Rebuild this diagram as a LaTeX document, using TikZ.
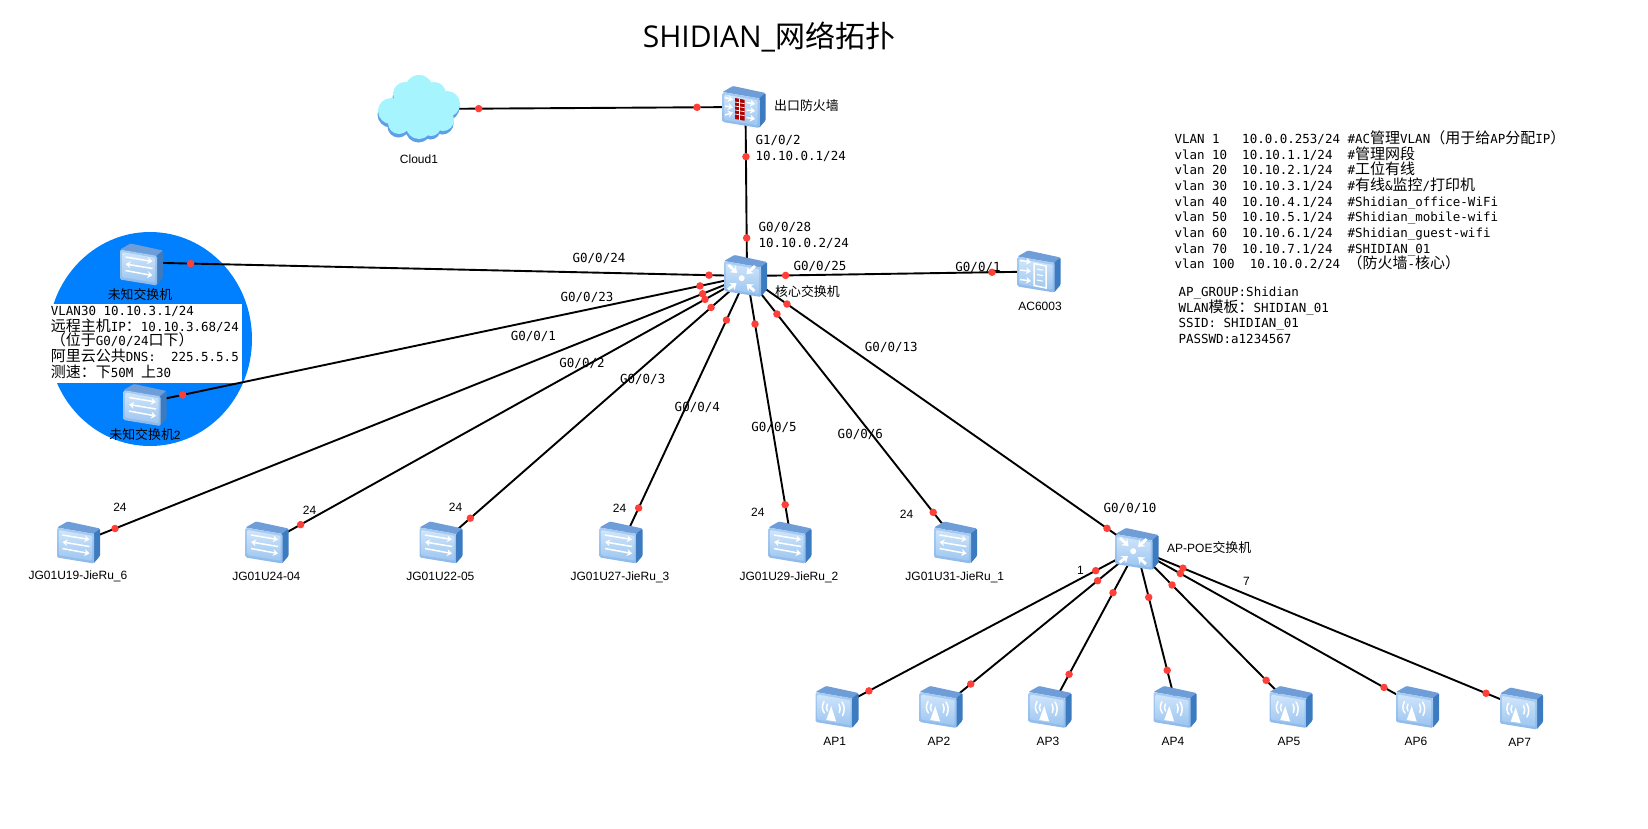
\documentclass[tikz,border=0pt]{standalone}
\usepackage{fontspec}
\setmainfont{Liberation Sans}
\setmonofont{DejaVu Sans Mono}
\newfontfamily\cjk{Noto Sans CJK SC}
\newfontfamily\titlefont{Open Sans}
\usetikzlibrary{arrows.meta}
\pgfdeclarelayer{back}
\pgfdeclarelayer{lines}
\pgfsetlayers{back,lines,main}
\definecolor{dotred}{HTML}{FF4038}
\definecolor{blob}{HTML}{0080FF}
\definecolor{faceA}{HTML}{A9CDF3}
\definecolor{faceB}{HTML}{8DB8EA}
\definecolor{innerA}{HTML}{CFE5FA}
\definecolor{innerB}{HTML}{9DC6F0}
\definecolor{topA}{HTML}{6E9DD8}
\definecolor{sideC}{HTML}{3C7BC0}
\definecolor{cloudC}{HTML}{A6F4FD}
\definecolor{cloudS}{HTML}{5E9FEA}
\newcommand\zh[1]{{\cjk\fontsize{15}{15}\selectfont #1}}
\newcommand\zhs[1]{{\cjk\fontsize{12.9}{14}\selectfont #1}}
\tikzset{
  dev/.style={minimum width=43pt,minimum height=42pt,inner sep=0pt},
  link/.style={draw=black,line width=1.9pt},
  portdot/.style={circle,fill=dotred,inner sep=0pt,minimum size=7.5pt},
  port/.style={font=\ttfamily\fontsize{12.5}{15}\selectfont,inner sep=0pt,text height=9pt,text depth=0pt},
  devname/.style={font=\fontsize{12}{14}\selectfont,inner sep=0pt,text height=9pt,text depth=0pt},
  note/.style={font=\ttfamily\fontsize{12.5}{15}\selectfont,inner sep=0pt,anchor=base west},
  icw/.style={white,line width=1.5pt,-{Stealth[length=5pt,width=7pt]}},
  icb/.style={white,line width=2.8pt,-{Stealth[length=6pt,width=9pt]}},
  icl/.style={white,line width=1.5pt,line cap=round},
}
\newcommand\devbody{%
  \fill[topA,rounded corners=1pt] (-21.5,-15) -- (-11,-21) -- (21.5,-14) -- (15.5,-8.5) -- cycle;
  \fill[sideC,rounded corners=1pt] (15,-8.7) -- (21.5,-14) -- (21.5,13.5) -- (15,21) -- cycle;
  \shade[top color=faceA,bottom color=faceB,rounded corners=1.5pt] (-21.5,-15) -- (15.5,-8.7) -- (15.5,21) -- (-21.5,15) -- cycle;
  \shade[top color=innerA,bottom color=innerB,rounded corners=1pt] (-19.5,-12.5) -- (13.5,-6.7) -- (13.5,18.3) -- (-19.5,12.7) -- cycle;
}
\newcommand\swart{%
  \draw[icw] (-16,-7.5) -- (11,-3);
  \draw[icw] (11,4) -- (-16,-0.5);
  \draw[icw] (-16,6) -- (11,11);
}
\newcommand\fwart{%
  \fill[red!70!black] (-9,-9) -- (0.5,-7.2) -- (0.5,13.7) -- (-9,12) -- cycle;
  \foreach \yy in {-5,-1,3,7} {\draw[white,line width=.7pt] (-9,\yy) -- (0.5,\yy+1.7);}
  \draw[white,line width=.7pt] (-4.2,-8) -- (-4.2,12.8);
  \draw[icw] (-19,-9.5) -- (-11,-7);
  \draw[icw] (-19,-1) -- (-11,0.3);
  \draw[icw] (-19,8) -- (-11,5.5);
  \draw[icw] (2.7,-4.5) -- (11,-3);
  \draw[icw] (2.7,3) -- (11,4);
  \draw[icw] (2.7,10.5) -- (11,12);
}
\newcommand\coreart{%
  \fill[white] (-3.8,2.2) circle (3);
  \draw[icb] (-17,-11) -- (-8.5,-3);
  \draw[icb] (9.5,-10) -- (1,-2);
  \draw[icb] (-17.5,13.5) -- (-9,7);
  \draw[icb] (9,15) -- (1,8);
}
\newcommand\apart{%
  \fill[white] (-5.8,-1) -- (-0.8,14.5) -- (-10.8,13) -- cycle;
  \draw[icl] (-13,-5.5) .. controls (-15.5,-1) and (-15,3) .. (-12.5,6);
  \draw[icl] (-9.5,-3) .. controls (-11,-0.5) and (-10.8,2) .. (-9.5,4);
  \draw[icl] (2,-3) .. controls (3.5,0) and (3.5,3) .. (2.3,5.5);
  \draw[icl] (5,-5) .. controls (7.8,-1) and (7.8,4) .. (5.5,8.5);
}
\newcommand\acart{%
  \draw[icw] (-19,-11) -- (-8,-9.5);
  \draw[icw] (-19,-1.5) -- (-8,-0.2);
  \draw[icw] (-19,8) -- (-8,9.5);
  \draw[icl] (-5,-8) -- (7,-5.5) -- (7,16.5) -- (-5,14) -- cycle;
  \draw[white,line width=1pt] (-2,-2.5) -- (4,-1.3);
  \draw[white,line width=1pt] (-2,3) -- (4,4.2);
  \draw[white,line width=1pt] (-2,8.5) -- (4,9.7);
}
\newcommand\device[4]{%
  \node[dev] (#1) at (#2,#3) {};
  \begin{scope}[shift={(#1.center)},xshift=-1.5pt]
    \devbody #4
  \end{scope}%
}
\newcommand\lnk[5]{%
  \begin{pgfonlayer}{lines}
    \draw[link] (#2) -- node[portdot,pos=#4] (#1a) {} node[portdot,pos=#5] (#1b) {} (#3);
  \end{pgfonlayer}%
}
\newcommand\cloudshape{%
  (0,-20) circle (14) (-14,-15) circle (12) (15,-15) circle (12)
  (-28,2) circle (13) (28,-5) circle (13) (24,11) circle (11)
  (-20,14) circle (11) (0,17) circle (13) (12,17) circle (10) (0,0) circle (25)
}
\begin{document}
\begin{tikzpicture}[x=1pt,y=-1pt]
\useasboundingbox (0,0) rectangle (1648,828);
\begin{pgfonlayer}{back}
  \fill[white] (0,0) rectangle (1648,828);
  \fill[blob] (150,339) ellipse (102 and 107);
  \fill[white] (46,304) rectangle (242,383);
\end{pgfonlayer}

% title
\node[anchor=base,inner sep=0pt] (title) at (769,47) {\titlefont\fontsize{30}{34}\selectfont SHIDIAN\_{\cjk 网络拓扑}};

% cloud
\node[minimum width=83pt,minimum height=68pt,inner sep=0pt] (cloud) at (419,109) {};
\begin{scope}[shift={(cloud.center)}]
  \fill[cloudS,yshift=-3.5pt,xshift=-.5pt] \cloudshape;
  \fill[cloudC] \cloudshape;
\end{scope}
\node[devname] (cloudname) at (419,159) {Cloud1};

% devices
\device{fw}{745.5}{107}{\fwart}
\device{core}{747}{276}{\coreart}
\device{ac}{1040.5}{271.5}{\acart}
\device{swa}{143}{264.5}{\swart}
\device{swb}{146.5}{405}{\swart}
\device{ua}{80}{542.5}{\swart}
\device{ub}{268.5}{542.5}{\swart}
\device{uc}{442.5}{542.5}{\swart}
\device{ud}{622.5}{542.5}{\swart}
\device{ue}{791.5}{542.5}{\swart}
\device{uf}{957}{542.5}{\swart}
\device{poe}{1138.5}{549}{\coreart}
\device{apa}{838.5}{707}{\apart}
\device{apb}{942.5}{707}{\apart}
\device{apc}{1051.5}{707}{\apart}
\device{apd}{1176.5}{707}{\apart}
\device{ape}{1292.5}{707}{\apart}
\device{apf}{1419}{707}{\apart}
\device{apg}{1523}{708.5}{\apart}

% connectors
\lnk{l1}{cloud.center}{fw.center}{.1828}{.8515}
\lnk{l2}{fw.center}{core.center}{.294}{.775}
\lnk{l3}{core.center}{ac.center}{.1315}{.8348}
\lnk{l4}{core.center}{[yshift=2pt]swa.center}{.0629}{.921}
\lnk{l5}{core.center}{[yshift=2.5pt]swb.center}{.0783}{.9397}
\lnk{l6}{core.center}{ua.center}{.0666}{.9475}
\lnk{l7}{core.center}{ub.center}{.0878}{.9329}
\lnk{l8}{core.center}{uc.center}{.1182}{.9087}
\lnk{l9}{core.center}{ud.center}{.1651}{.8705}
\lnk{l10}{core.center}{ue.center}{.1801}{.8582}
\lnk{l11}{core.center}{uf.center}{.1426}{.8867}
\lnk{l12}{core.center}{[xshift=-2pt]poe.center}{.1026}{.9242}
\lnk{l13}{[xshift=-2pt]poe.center}{apa.center}{.1369}{.8977}
\lnk{l14}{[xshift=-2pt]poe.center}{apb.center}{.2006}{.8544}
\lnk{l15}{[xshift=-2pt]poe.center}{apc.center}{.2766}{.793}
\lnk{l16}{[xshift=-2pt]poe.center}{apd.center}{.3057}{.7677}
\lnk{l17}{[xshift=-2pt]poe.center}{ape.center}{.2278}{.831}
\lnk{l18}{[xshift=-2pt]poe.center}{apf.center}{.155}{.8761}
\lnk{l19}{[xshift=-2pt]poe.center}{apg.center}{.1203}{.9043}

% device names
\node[devname,anchor=west] (n1) at (774,106) {\zhs{出口防火墙}};
\node[devname,anchor=west] (n2) at (775,292) {\zhs{核心交换机}};
\node[devname] (n3) at (1040,305.7) {AC6003};
\node[devname] (n4) at (140,295) {\zhs{未知交换机}};
\node[devname] (n5) at (145,435) {\zhs{未知交换机}2};
\node[devname] (n6) at (78,574.7) {JG01U19-JieRu\_6};
\node[devname] (n7) at (266.4,575.7) {JG01U24-04};
\node[devname] (n8) at (440.4,575.7) {JG01U22-05};
\node[devname] (n9) at (620,575.7) {JG01U27-JieRu\_3};
\node[devname] (n10) at (789,575.7) {JG01U29-JieRu\_2};
\node[devname] (n11) at (954.8,575.7) {JG01U31-JieRu\_1};
\node[devname,anchor=west] (n12) at (1167,548.3) {AP-POE\zhs{交换机}};
\node[devname] (n13) at (834.7,740.7) {AP1};
\node[devname] (n14) at (939,740.7) {AP2};
\node[devname] (n15) at (1047.9,740.7) {AP3};
\node[devname] (n16) at (1173,740.7) {AP4};
\node[devname] (n17) at (1289,740.7) {AP5};
\node[devname] (n18) at (1416,740.7) {AP6};
\node[devname] (n19) at (1519.7,741.7) {AP7};

% port labels
\node[port,anchor=west] (p1) at (755.3,140) {G1/0/2};
\node[port,anchor=west] (p2) at (755.3,156) {10.10.0.1/24};
\node[port,anchor=west] (p3) at (758.3,226.7) {G0/0/28};
\node[port,anchor=west] (p4) at (758.3,242.7) {10.10.0.2/24};
\node[port] (p5) at (599,257.7) {G0/0/24};
\node[port] (p6) at (587,296.7) {G0/0/23};
\node[port] (p7) at (533.4,336) {G0/0/1};
\node[port] (p8) at (582,362.7) {G0/0/2};
\node[port] (p9) at (642.7,378.7) {G0/0/3};
\node[port] (p10) at (697.3,406.7) {G0/0/4};
\node[port] (p11) at (774,427) {G0/0/5};
\node[port] (p12) at (860.3,434) {G0/0/6};
\node[port] (p13) at (891.3,346.7) {G0/0/13};
\node[port] (p14) at (978,266.7) {G0/0/1};
\node[port] (p15) at (820,265.7) {G0/0/25};
\node[port] (p16) at (1130,508) {G0/0/10};
\node[devname] (p17) at (120,507) {24};
\node[devname] (p18) at (309.5,510) {24};
\node[devname] (p19) at (455.6,507) {24};
\node[devname] (p20) at (619.5,508) {24};
\node[devname] (p21) at (757.8,512.3) {24};
\node[devname] (p22) at (906.5,514) {24};
\node[devname] (p23) at (1080.4,570) {1};
\node[devname] (p24) at (1246.5,581) {7};

% VLAN list
\node[note] (v1) at (1174.3,143.3) {VLAN~1~~~10.0.0.253/24~\#AC\zh{管理}VLAN\zh{（用于给}AP\zh{分配}IP\zh{）}};
\node[note] (v2) at (1174.3,159.3) {vlan~10~~10.10.1.1/24~~\#\zh{管理网段}};
\node[note] (v3) at (1174.3,174.3) {vlan~20~~10.10.2.1/24~~\#\zh{工位有线}};
\node[note] (v4) at (1174.3,190.3) {vlan~30~~10.10.3.1/24~~\#\zh{有线}\&\zh{监控}/\zh{打印机}};
\node[note] (v5) at (1174.3,206.3) {vlan~40~~10.10.4.1/24~~\#Shidian\_office-WiFi};
\node[note] (v6) at (1174.3,221.3) {vlan~50~~10.10.5.1/24~~\#Shidian\_mobile-wifi};
\node[note] (v7) at (1174.3,237.3) {vlan~60~~10.10.6.1/24~~\#Shidian\_guest-wifi};
\node[note] (v8) at (1174.3,253.3) {vlan~70~~10.10.7.1/24~~\#SHIDIAN\_01};
\node[note] (v9) at (1174.3,268.3) {vlan~100~~10.10.0.2/24~\zh{（防火墙}-\zh{核心）}};
\node[note] (w1) at (1178.3,296) {AP\_GROUP:Shidian};
\node[note] (w2) at (1178.3,312) {WLAN\zh{模板：}SHIDIAN\_01};
\node[note] (w3) at (1178.3,327.3) {SSID:~SHIDIAN\_01};
\node[note] (w4) at (1178.3,343.3) {PASSWD:a1234567};

% note in the white box
\node[note] (b1) at (50.7,315) {VLAN30~10.10.3.1/24};
\node[note] (b2) at (50.7,331) {\zh{远程主机}IP\zh{：}10.10.3.68/24};
\node[note] (b3) at (50.7,345) {\zh{（位于}G0/0/24\zh{口下）}};
\node[note] (b4) at (50.7,361.7) {\zh{阿里云公共}DNS:~~225.5.5.5};
\node[note] (b5) at (50.7,377.7) {\zh{测速：下}50M~\zh{上}30};
\end{tikzpicture}
\end{document}
